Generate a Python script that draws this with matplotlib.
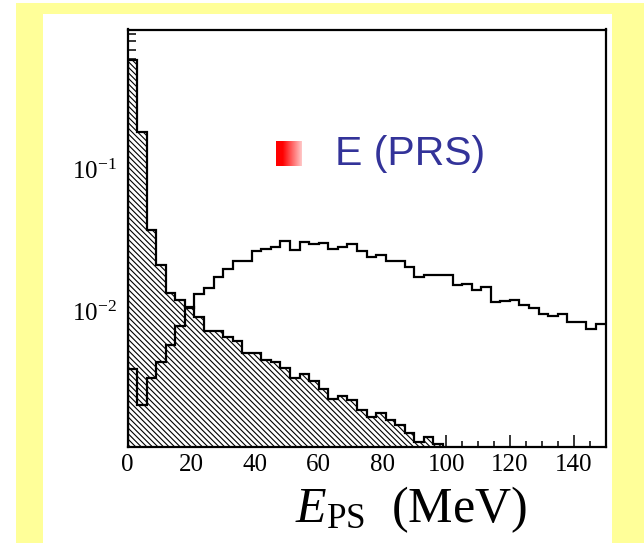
import numpy as np
import matplotlib
matplotlib.use("Agg")
import matplotlib.pyplot as plt
from matplotlib.patches import Rectangle
from matplotlib.ticker import LogLocator, NullFormatter, MultipleLocator

# ---------------- data ----------------
bin_width = 3.0  # MeV
hatched_values = [0.59, 0.184, 0.0373, 0.0211, 0.0134, 0.0120, 0.0107, 0.0091,
                  0.0072, 0.0072, 0.0066, 0.0062, 0.0051, 0.0051, 0.0045, 0.0044,
                  0.0040, 0.0034, 0.0036, 0.0032, 0.0028, 0.0024, 0.0025, 0.00235,
                  0.0020, 0.0018, 0.0019, 0.0017, 0.00157, 0.00138, 0.0012, 0.00129,
                  0.00116]
open_values = [0.0039, 0.00217, 0.0034, 0.0044, 0.0058, 0.0078, 0.0105, 0.0133, 0.0145, 0.0175,
               0.0198, 0.0225, 0.0225, 0.0265, 0.0274, 0.0284, 0.0312, 0.0269, 0.0305, 0.0296,
               0.0301, 0.0274, 0.0284, 0.0296, 0.0265, 0.0242, 0.0248, 0.0225, 0.0225, 0.0206,
               0.0175, 0.0180, 0.0180, 0.0180, 0.0153, 0.0155, 0.0142, 0.0148, 0.0116, 0.0118,
               0.0120, 0.0110, 0.0105, 0.0095, 0.0092, 0.0095, 0.0084, 0.0084, 0.0075, 0.0081]
x_ticks = [0, 20, 40, 60, 80, 100, 120, 140]
y_ticks = [1e-2, 1e-1]
y_tick_labels = [r"$10^{-2}$", r"$10^{-1}$"]
x_label = r"$E_{\rm PS}$  (MeV)"
legend_text = "E (PRS)"

# ---------------- style ----------------
plt.rcParams["hatch.linewidth"] = 0.8
plt.rcParams["mathtext.fontset"] = "custom"
plt.rcParams["mathtext.rm"] = "Liberation Serif"
plt.rcParams["mathtext.it"] = "Liberation Serif:italic"
plt.rcParams["mathtext.bf"] = "Liberation Serif:bold"

W, H = 644, 543
fig = plt.figure(figsize=(W / 100, H / 100), dpi=100)
fig.patch.set_facecolor("white")


def frect(x0, y0, x1, y1):
    return (x0 / W, 1 - y1 / H), (x1 - x0) / W, (y1 - y0) / H


(xy, w, h) = frect(16, 3, 644, 543)
fig.add_artist(Rectangle(xy, w, h, transform=fig.transFigure,
                         facecolor="#ffff99", edgecolor="none", zorder=-10))
(xy, w, h) = frect(43, 14, 612, 543)
fig.add_artist(Rectangle(xy, w, h, transform=fig.transFigure,
                         facecolor="white", edgecolor="none", zorder=-9))

ax = fig.add_axes([127.5 / W, 1 - 447 / H, 478 / W, 417.5 / H])
ax.set_facecolor("white")

edges_h = np.arange(len(hatched_values) + 1) * bin_width
edges_o = np.arange(len(open_values) + 1) * bin_width

ax.stairs(hatched_values, edges_h, baseline=1e-5, fill=True,
          facecolor="white", edgecolor="black", hatch="\\\\\\\\\\\\", linewidth=1.6, zorder=2)
ax.stairs(open_values, edges_o, baseline=None, color="black", linewidth=1.6, zorder=3)

ax.set_yscale("log")
ax.set_xlim(0, 150)
ax.set_ylim(0.0011, 0.97)

ax.set_xticks(x_ticks)
ax.set_xticklabels([str(t) for t in x_ticks])
ax.xaxis.set_minor_locator(MultipleLocator(5))
ax.set_yticks(y_ticks)
ax.set_yticklabels(y_tick_labels)
ax.yaxis.set_minor_locator(LogLocator(base=10, subs=np.arange(2, 10)))
ax.yaxis.set_minor_formatter(NullFormatter())

ax.tick_params(axis="both", which="both", direction="in", top=False, right=False,
               width=1.1, colors="black")
ax.tick_params(axis="x", which="major", length=8.5, pad=5)
ax.tick_params(axis="x", which="minor", length=4.3)
ax.tick_params(axis="y", which="major", length=11, pad=8)
ax.tick_params(axis="y", which="minor", length=5.5)
for lab in ax.get_xticklabels() + ax.get_yticklabels():
    lab.set_fontfamily("Liberation Serif")
    lab.set_fontsize(18)

for sp in ax.spines.values():
    sp.set_linewidth(1.6)

fig.text(411 / W, 1 - 510 / H, x_label, fontsize=36, family="Liberation Serif",
         ha="center", va="center")

# legend-like label
grad = np.ones((1, 40, 3))
t = np.linspace(0, 1, 40)
fade = np.clip((t - 0.25) / 0.75, 0, 1) * 0.78
grad[0, :, 0] = 1.0
grad[0, :, 1] = fade
grad[0, :, 2] = fade
gax = fig.add_axes([276 / W, 1 - 166 / H, 26 / W, 25 / H])
gax.imshow(grad, aspect="auto", interpolation="bilinear")
gax.axis("off")

fig.text(335 / W, 1 - 154 / H, legend_text, fontsize=29.5, family="Liberation Sans",
         color="#333399", ha="left", va="center")

fig.savefig("out.png", dpi=100, facecolor=fig.get_facecolor())
